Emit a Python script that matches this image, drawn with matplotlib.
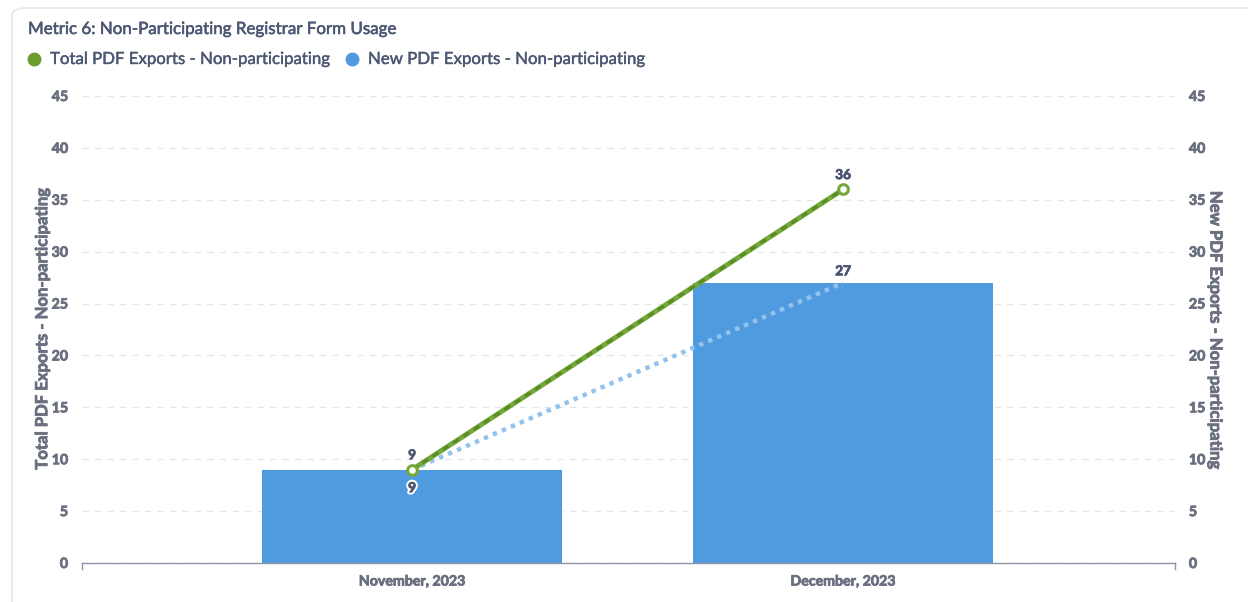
"""
Metric 6 chart: non-participating registrar form usage
"""

import numpy as np
import matplotlib.pyplot as plt
from matplotlib.patches import FancyBboxPatch
from matplotlib.lines import Line2D
from matplotlib import patheffects as pe

plt.rcParams['font.family'] = ['Lato', 'DejaVu Sans']

# data
months = ['November, 2023', 'December, 2023']
total_exports = [9, 36]
new_exports = [9, 27]
yticks = [0, 5, 10, 15, 20, 25, 30, 35, 40, 45]

green = '#74A83A'
green_dark = '#5A8C25'
blue = '#509BE0'
blue_light = '#92C3EE'
tick_col = '#6B7080'
lab_col = '#4C5773'


def fake_bold(col, w=0.6):
    # thicken the glyphs a little
    return [pe.withStroke(linewidth=w, foreground=col)]


fig = plt.figure(figsize=(12.48, 6.02), dpi=100)
fig.patch.set_facecolor('white')

# card border
card = FancyBboxPatch((12 / 1248, -0.02), 1.2, 1 - 8 / 602 + 0.02,
                      boxstyle='round,pad=0,rounding_size=0.012',
                      transform=fig.transFigure, facecolor='white',
                      edgecolor='#E6E8EB', linewidth=1.2, zorder=-10)
fig.add_artist(card)

ax = fig.add_axes([82 / 1248, 1 - 563 / 602, (1175 - 82) / 1248, (563 - 96) / 602])
ax.set_facecolor('none')
x = np.arange(len(months))

ax.bar(x, new_exports, width=0.696, color=blue, zorder=2)

# blue dotted trend of new exports
ax.plot(x, new_exports, color=blue_light, linewidth=3.2, linestyle=(0, (1.0, 1.2)),
        zorder=3)

# green line with darker dash overlay
ax.plot(x, total_exports, color=green, linewidth=3.6, zorder=4,
        solid_capstyle='round')
ax.plot(x, total_exports, color=green_dark, linewidth=2.2, linestyle=(0, (2.2, 1.8)),
        zorder=5)
ax.plot(x, total_exports, linestyle='none', marker='o', markersize=7,
        markerfacecolor='white', markeredgecolor=green, markeredgewidth=2.2,
        zorder=6)

ax.set_xlim(-0.766, 1.770)
ax.set_ylim(0, 45)
ax.set_yticks(yticks)
ax.set_xticks(x)
ax.set_xticklabels(months, fontsize=10.2, fontweight='bold', color=tick_col)
ax.tick_params(axis='x', length=0, pad=9)
ax.tick_params(axis='y', length=0, pad=10, labelsize=10.2, labelcolor=tick_col)
for lbl in ax.get_yticklabels() + ax.get_xticklabels():
    lbl.set_fontweight('bold')
    lbl.set_path_effects(fake_bold(tick_col))

ax.grid(axis='y', color='#E3E5E8', linestyle=(0, (5, 5)), linewidth=0.9, zorder=0)
for s in ['top', 'left', 'right']:
    ax.spines[s].set_visible(False)
ax.spines['bottom'].set_color('#8E95A7')
ax.spines['bottom'].set_linewidth(1.0)
ax.set_axisbelow(True)

# small end ticks on the bottom axis
for xe in ax.get_xlim():
    ax.plot([xe, xe], [0, -0.55], color='#8E95A7', linewidth=1.0, clip_on=False)

yl = ax.set_ylabel('Total PDF Exports - Non-participating', fontsize=12,
                   fontweight='bold', color=tick_col, labelpad=1)
yl.set_path_effects(fake_bold(tick_col))

ax2 = ax.twinx()
ax2.set_ylim(0, 45)
ax2.set_yticks(yticks)
ax2.tick_params(axis='y', length=0, pad=10, labelsize=10.2, labelcolor=tick_col)
for lbl in ax2.get_yticklabels():
    lbl.set_fontweight('bold')
    lbl.set_path_effects(fake_bold(tick_col))
for s in ax2.spines.values():
    s.set_visible(False)
yl2 = ax2.set_ylabel('New PDF Exports - Non-participating', fontsize=12,
                     fontweight='bold', color=tick_col, rotation=270, labelpad=13)
yl2.set_path_effects(fake_bold(tick_col))

# value labels
outline = [pe.withStroke(linewidth=3.5, foreground='white'),
           pe.withStroke(linewidth=0.6, foreground=lab_col)]
for i, v in enumerate(total_exports):
    ax.annotate(str(v), (x[i], v), xytext=(0, 6), textcoords='offset points',
                ha='center', va='bottom', fontsize=9.8, fontweight='bold',
                color=lab_col, zorder=7, path_effects=fake_bold(lab_col))
ax.annotate(str(new_exports[0]), (x[0], new_exports[0]), xytext=(0, -9),
            textcoords='offset points', ha='center', va='top', fontsize=9.8,
            fontweight='bold', color=lab_col, path_effects=outline, zorder=7)
ax.annotate(str(new_exports[1]), (x[1], new_exports[1]), xytext=(0, 4),
            textcoords='offset points', ha='center', va='bottom', fontsize=9.8,
            fontweight='bold', color=lab_col, path_effects=outline, zorder=7)

# title and legend
t = fig.text(28 / 1248, 1 - 29 / 602, 'Metric 6: Non-Participating Registrar Form Usage',
             fontsize=12.2, color='#4C5773', va='center', ha='left')
t.set_path_effects(fake_bold('#4C5773', 0.4))
fig.add_artist(Line2D([34 / 1248], [1 - 59 / 602], marker='o', markersize=9,
                      color='#6A9E2E', transform=fig.transFigure))
t = fig.text(50 / 1248, 1 - 59 / 602, 'Total PDF Exports - Non-participating',
             fontsize=12.1, color='#4C5773', va='center', ha='left')
t.set_path_effects(fake_bold('#4C5773', 0.3))
fig.add_artist(Line2D([352 / 1248], [1 - 59 / 602], marker='o', markersize=9,
                      color=blue, transform=fig.transFigure))
t = fig.text(368 / 1248, 1 - 59 / 602, 'New PDF Exports - Non-participating',
             fontsize=12.1, color='#4C5773', va='center', ha='left')
t.set_path_effects(fake_bold('#4C5773', 0.3))

fig.savefig('out.png', dpi=100)
